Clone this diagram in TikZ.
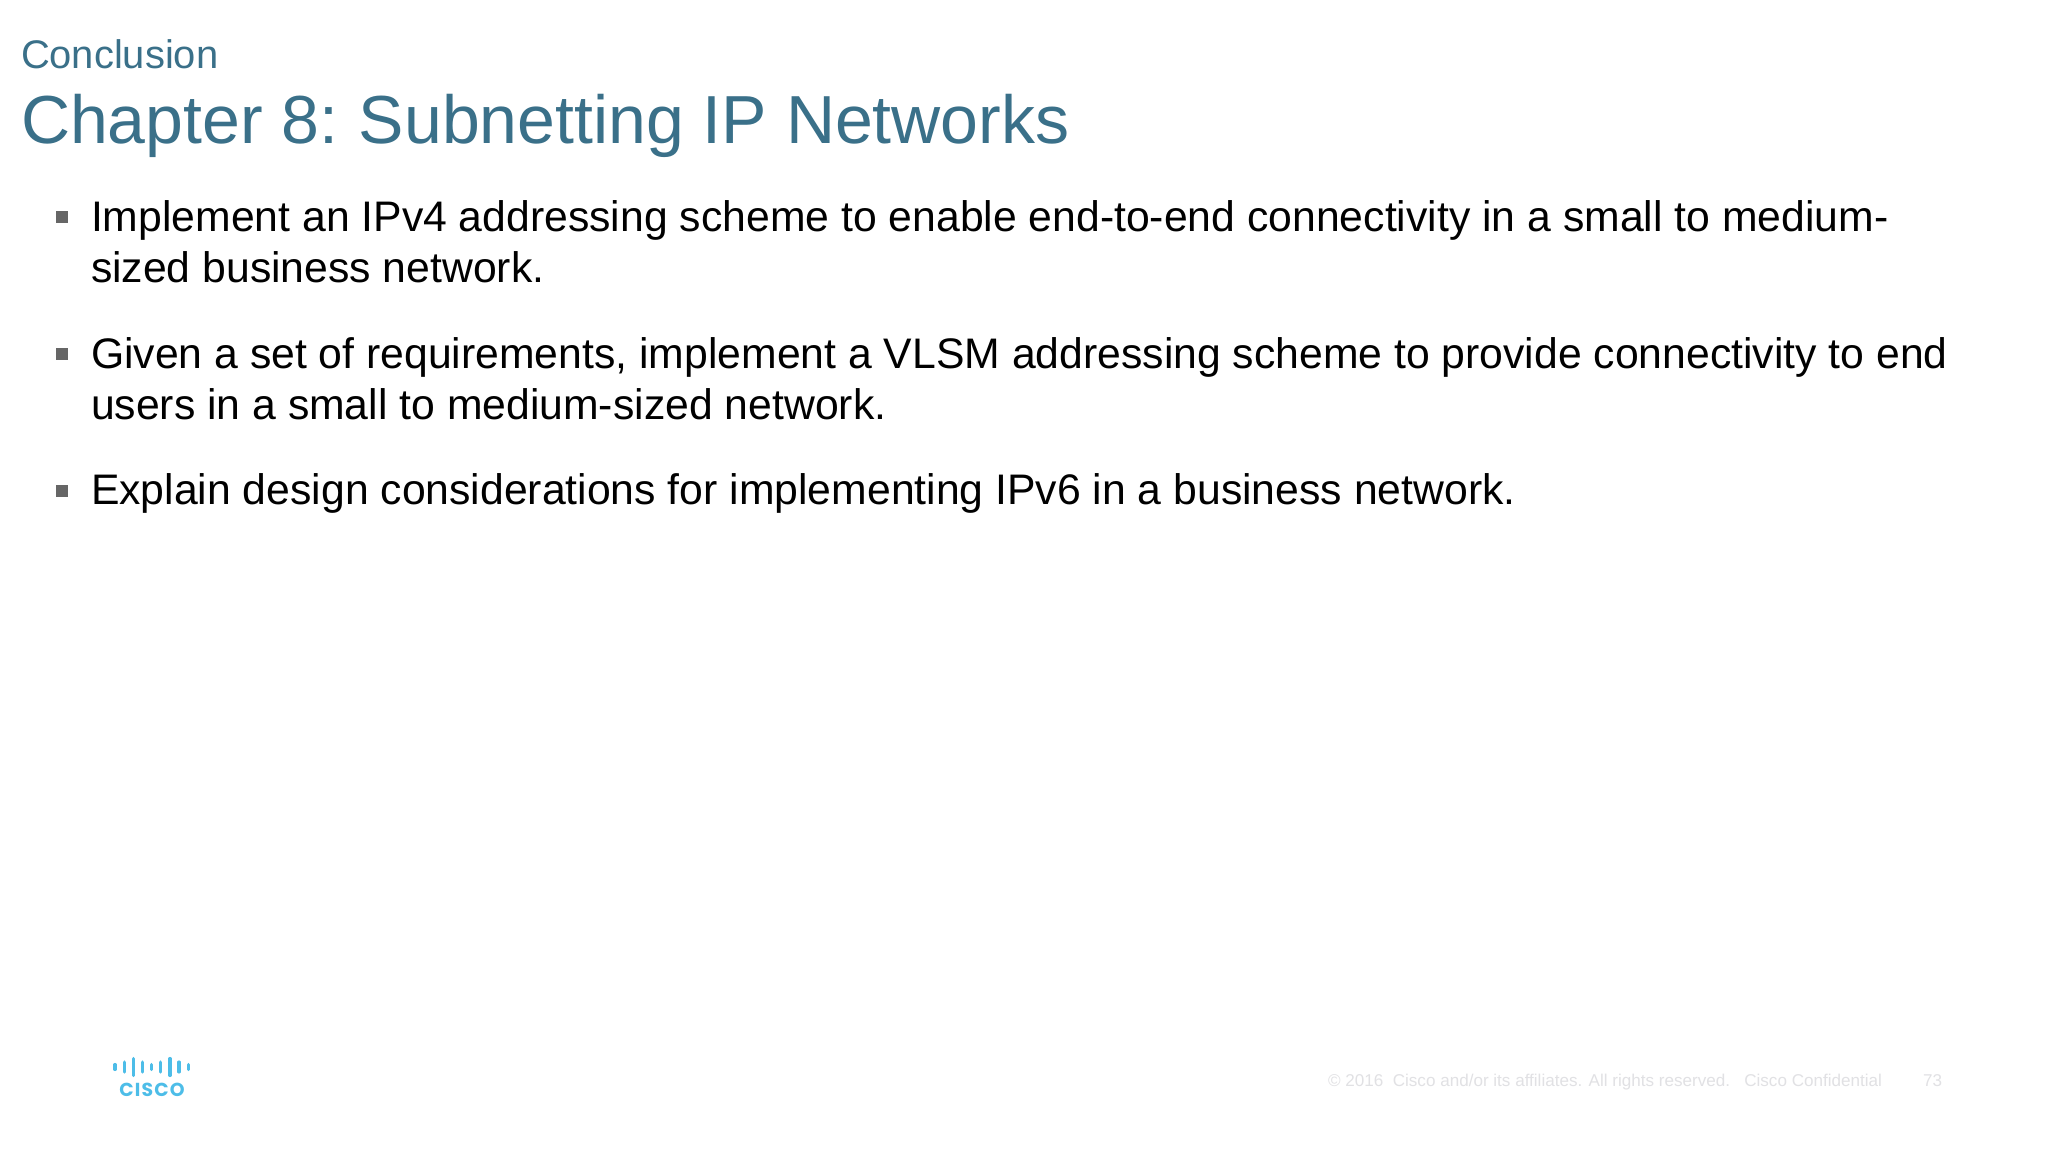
\documentclass[tikz,border=0pt]{standalone}
\usepackage{fontspec}
\setmainfont{Liberation Sans}
\newfontfamily\logofont{Poppins}
\definecolor{titleblue}{HTML}{3A7089}
\definecolor{bulletgray}{HTML}{666666}
\definecolor{footgray}{HTML}{E1E1E4}
\definecolor{ciscoblue}{HTML}{4DBDE8}
\tikzset{
  x=0.5pt,y=-0.5pt,
  txt/.style={inner sep=0pt,outer sep=0pt,anchor=base west},
  subtitle/.style={txt,text=titleblue,font=\fontsize{19.95}{24}\selectfont},
  maintitle/.style={txt,text=titleblue,font=\fontsize{34}{40}\selectfont},
  body/.style={txt,text=black,font=\fontsize{21.36}{25}\selectfont},
  foot/.style={txt,text=footgray,font=\fontsize{8.54}{10}\selectfont},
  bulletmark/.style={fill=bulletgray,draw=none,minimum size=6pt,inner sep=0pt,outer sep=0pt,shape=rectangle},
  logobar/.style={draw=ciscoblue,line width=1.55pt,line cap=round},
}
\begin{document}
\begin{tikzpicture}
\useasboundingbox (0,0) rectangle (2048,1152);
\fill[white] (0,0) rectangle (2048,1152);
\node[subtitle] (sub) at (21,68) {Conclusion};
\node[maintitle] (title) at (21,143) {Chapter 8:\kern0.8pt\ Subnetting IP Networks};
\node[bulletmark] (b1) at (62,217) {};
\node[bulletmark] (b2) at (62,354) {};
\node[bulletmark] (b3) at (62,491) {};
\node[body] (l1a) at (91,231) {Implement an IPv4 addressing scheme to enable end-to-end connectivity in a small to medium-};
\node[body] (l1b) at (91,282) {sized business network.};
\node[body] (l2a) at (91,368) {Given a set of requirements, implement a VLSM addressing scheme to provide connectivity to end};
\node[body] (l2b) at (91,419) {users in a small to medium-sized network.};
\node[body] (l3a) at (91,504) {Explain design considerations for implementing IPv6 in a business network.};
\foreach \x/\h in {115/2.5,124.3/5,133.3/8.5,142.3/5,151.7/2.5,160.7/5,170/8.5,179/5,188.3/2.5}
  \draw[logobar] (\x,1067-\h) -- (\x,1067+\h);
\node[txt,text=ciscoblue,font=\logofont\bfseries\fontsize{9.4}{10}\selectfont,anchor=base] (logo) at (152,1096) {C\kern0.6pt I\kern0.6pt S\kern0.6pt C\kern0.6pt O};
\node[foot] (copy) at (1328,1086) {© 2016\ \ Cisco and/or its affiliates. All rights reserved.\ \ \ Cisco Confidential};
\node[foot] (page) at (1923,1086) {73};
\end{tikzpicture}
\end{document}
